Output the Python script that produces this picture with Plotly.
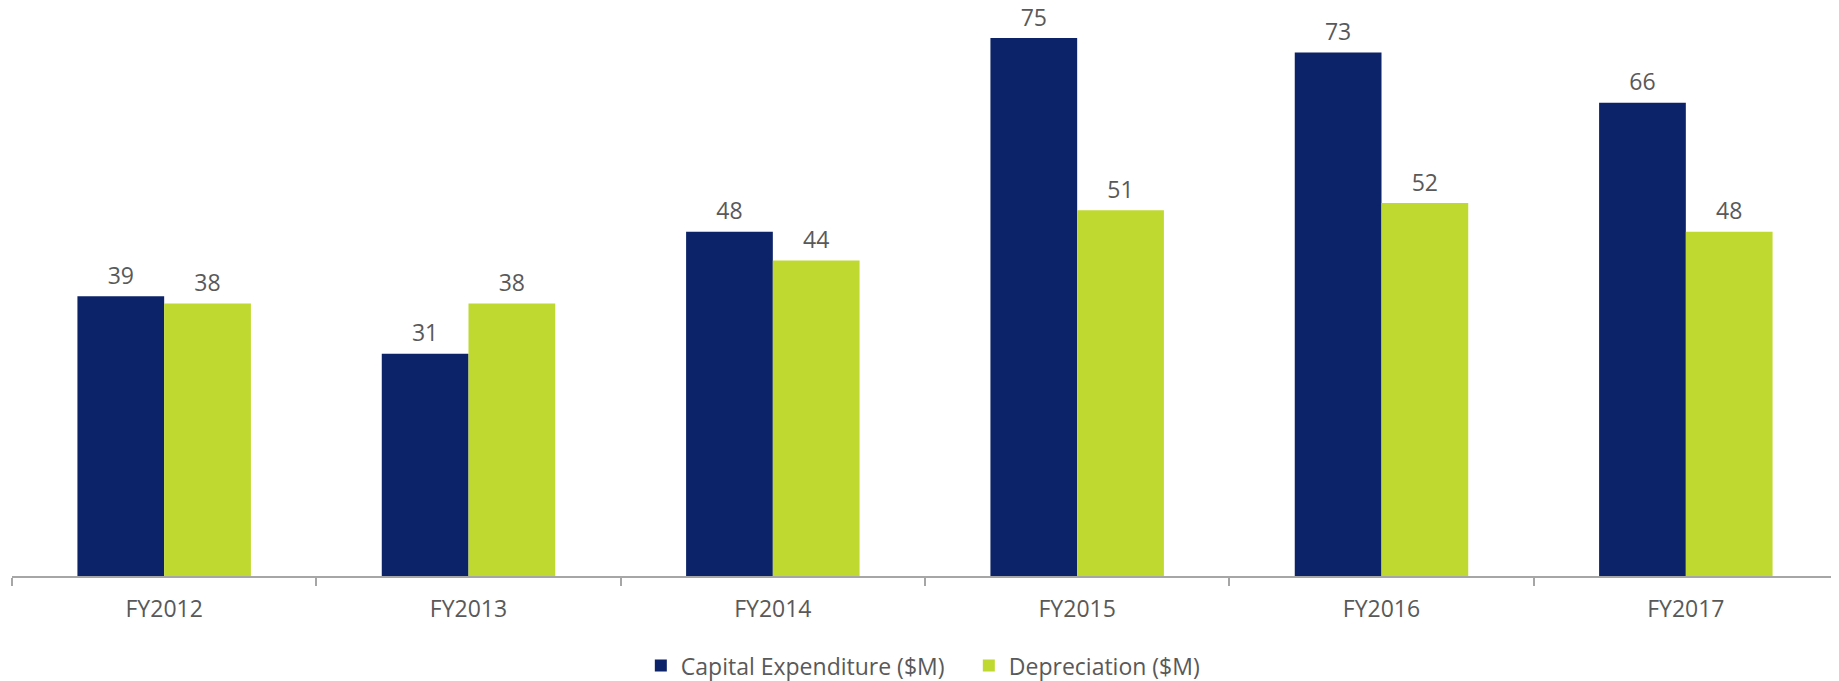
import plotly.graph_objects as go

years = ["FY2012", "FY2013", "FY2014", "FY2015", "FY2016", "FY2017"]
capex = [39, 31, 48, 75, 73, 66]
depreciation = [38, 38, 44, 51, 52, 48]

navy = "#0c2369"
lime = "#bfd930"
grey_text = "#595959"

fig = go.Figure()
fig.add_trace(go.Bar(x=years, y=capex, name="Capital Expenditure ($M)",
                     marker_color=navy, offsetgroup="capex"))
fig.add_trace(go.Bar(x=years, y=depreciation, name="Depreciation ($M)",
                     marker_color=lime, offsetgroup="dep"))
fig.update_traces(marker_line_width=0)

# value labels as grouped scatter text so they sit a little higher above the bars
for vals, grp in [(capex, "capex"), (depreciation, "dep")]:
    fig.add_trace(go.Scatter(x=years, y=vals, text=vals, mode="markers+text",
                             textposition="top center", offsetgroup=grp,
                             marker=dict(size=9, opacity=0),
                             textfont=dict(family="Open Sans", size=23, color=grey_text),
                             cliponaxis=False, showlegend=False, hoverinfo="skip"))

# page body has an 8px margin, so the figure is a bit smaller than the window
fig.update_layout(
    width=1831, height=673,
    margin=dict(l=4, r=1, t=0, b=105, autoexpand=False),
    plot_bgcolor="white", paper_bgcolor="white",
    barmode="group", bargap=0.43, bargroupgap=0,
    scattermode="group", scattergap=0.43,
    font=dict(family="Open Sans", size=23, color=grey_text),
    showlegend=True,
    legend=dict(orientation="h", x=0.524, xanchor="center", y=-0.12, yanchor="top",
                font=dict(size=23, color=grey_text), itemwidth=30, entrywidth=283),
    xaxis=dict(showline=True, linecolor="#a6a6a6", linewidth=1.5,
               ticks="outside", tickson="boundaries", ticklen=8,
               tickcolor="#a6a6a6", tickwidth=1.5, ticklabelstandoff=12,
               showgrid=False, automargin=False),
    yaxis=dict(visible=False, range=[0, 79.2], automargin=False),
)

fig.write_html("out.html")
